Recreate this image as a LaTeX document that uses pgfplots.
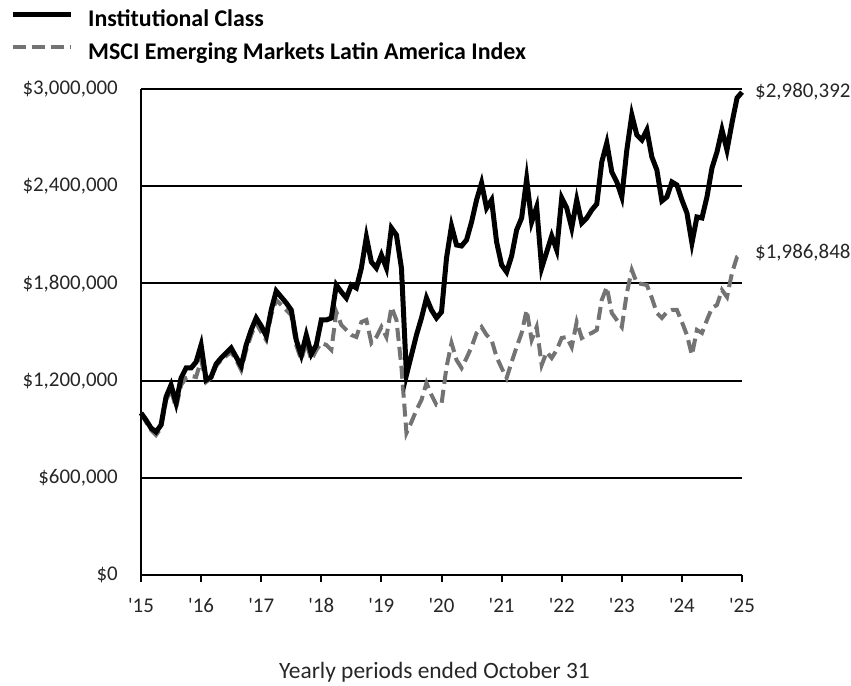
\documentclass[border=0pt]{standalone}
\usepackage{fontspec}
\setmainfont{Carlito}[Ligatures=TeXOff]
\usepackage{pgfplots}
\pgfplotsset{compat=1.18}
\definecolor{idxgray}{RGB}{115,115,115}
\pgfplotstableread{
m v
0 1000000
1 956800
2 907400
3 882700
4 926000
5 1098800
6 1172900
7 1061800
8 1216100
9 1277800
10 1277800
11 1314800
12 1419800
13 1203700
14 1222300
15 1302500
16 1339500
17 1370400
18 1401300
19 1345700
20 1290200
21 1419800
22 1512400
23 1586500
24 1537100
25 1475300
26 1635800
27 1753100
28 1716100
29 1679100
30 1635800
31 1450700
32 1358100
33 1481500
34 1364200
35 1419800
36 1574100
37 1574100
38 1586500
39 1790200
40 1747000
41 1709900
42 1790200
43 1771700
44 1895100
45 2086500
46 1932100
47 1895100
48 1975400
49 1895100
50 2142000
51 2098800
52 1895100
53 1234600
54 1358100
55 1481500
56 1586500
57 1709900
58 1635800
59 1586500
60 1623500
61 1956800
62 2154400
63 2037100
64 2030900
65 2068000
66 2179100
67 2314900
68 2419800
69 2265500
70 2314900
71 2055600
72 1913600
73 1870400
74 1969200
75 2129700
76 2203800
77 2444500
78 2179100
79 2271700
80 1895100
81 1993900
82 2092600
83 2006200
84 2327200
85 2265500
86 2142000
87 2314900
88 2172900
89 2203800
90 2253100
91 2290200
92 2549400
93 2666700
94 2487700
95 2426000
96 2333400
97 2623500
98 2839600
99 2716100
100 2685300
101 2747000
102 2580300
103 2500100
104 2308700
105 2333400
106 2426000
107 2407500
108 2314900
109 2234600
110 2049400
111 2209900
112 2203800
113 2333400
114 2512400
115 2611200
116 2747000
117 2623500
118 2790200
119 2944500
120 2980392
}\fund
\pgfplotstableread{
m v
0 1000000
1 944500
2 895100
3 864200
4 907400
5 1080300
6 1142000
7 1030900
8 1172900
9 1216100
10 1228400
11 1222300
12 1327200
13 1191400
14 1216100
15 1290200
16 1327200
17 1351900
18 1376600
19 1327200
20 1265500
21 1388900
22 1481500
23 1555600
24 1500000
25 1450700
26 1605000
27 1697600
28 1666700
29 1635800
30 1605000
31 1419800
32 1327200
33 1438300
34 1327200
35 1388900
36 1432100
37 1419800
38 1388900
39 1623500
40 1543300
41 1512400
42 1481500
43 1469200
44 1561800
45 1574100
46 1432100
47 1469200
48 1530900
49 1469200
50 1654400
51 1574100
52 1284000
53 876600
54 944500
55 1018500
56 1080300
57 1185200
58 1111100
59 1049400
60 1055600
61 1284000
62 1432100
63 1327200
64 1277800
65 1339500
66 1407400
67 1493900
68 1530900
69 1481500
70 1450700
71 1345700
72 1277800
73 1216100
74 1314800
75 1407400
76 1493900
77 1635800
78 1450700
79 1530900
80 1296300
81 1376600
82 1339500
83 1388900
84 1463000
85 1469200
86 1407400
87 1561800
88 1463000
89 1481500
90 1493900
91 1512400
92 1697600
93 1777800
94 1617300
95 1574100
96 1530900
97 1740800
98 1882800
99 1802500
100 1796300
101 1790200
102 1709900
103 1617300
104 1586500
105 1623500
106 1635800
107 1635800
108 1561800
109 1481500
110 1358100
111 1512400
112 1493900
113 1574100
114 1648200
115 1666700
116 1759300
117 1716100
118 1864200
119 1963000
120 1986848
}\idx
\begin{document}
\begin{tikzpicture}[x=1bp,y=1bp]
\useasboundingbox (0,0) rectangle (851,686);
\begin{axis}[
  at={(141bp,111bp)}, anchor=south west,
  scale only axis, width=601bp, height=486bp,
  xmin=0, xmax=120, ymin=0, ymax=3000000,
  scaled y ticks=false,
  clip=false,
  axis x line*=bottom, axis y line*=left,
  axis line style={line width=2bp, black},
  ymajorgrids, grid style={line width=2bp, black},
  xtick={0,12,...,120},
  xticklabels={'15,'16,'17,'18,'19,'20,'21,'22,'23,'24,'25},
  ytick={0,600000,1200000,1800000,2400000,3000000},
  yticklabels={\$0,{\$600,000},{\$1,200,000},{\$1,800,000},{\$2,400,000},{\$3,000,000}},
  tick label style={font=\fontsize{21}{24}\selectfont, text=black!85},
  tick align=outside,
  major tick length=7bp,
  xtick style={line width=2bp, black},
  ytick style={draw=none},
  xticklabel style={yshift=-13bp},
  yticklabel style={inner sep=0pt, xshift=-16bp},
  xlabel={Yearly periods ended October 31},
  xlabel style={at={(axis description cs:0.5,-0.1996)}, anchor=center, xshift=-7bp, font=\fontsize{23.5}{26}\selectfont, text=black!85},
  reverse legend,
  legend cell align=left,
  legend style={at={(axis description cs:-0.218,1.1646)}, anchor=north west, draw=none, fill=none,
    font=\fontsize{24}{28}\selectfont\bfseries, inner sep=0pt,
    nodes={inner sep=0pt, text height=17bp, text depth=5bp},
    row sep=11bp,
    /tikz/every odd column/.append style={column sep=15bp}},
  legend image code/.code={\draw[#1] (0bp,6bp) -- (58bp,6bp);},
]
\addplot[idxgray, line width=4bp, dash pattern=on 13bp off 6bp] table[x=m,y=v]{\idx};
\addlegendentry{MSCI Emerging Markets Latin America Index}
\addplot[black, line width=5bp] table[x=m,y=v]{\fund};
\addlegendentry{Institutional Class}
\node[anchor=west, font=\fontsize{21}{24}\selectfont, text=black!85, inner sep=0pt] at (axis cs:120,2980392) [xshift=13bp] {\$2,980,392};
\node[anchor=west, font=\fontsize{21}{24}\selectfont, text=black!85, inner sep=0pt] at (axis cs:120,1986848) [xshift=13bp] {\$1,986,848};
\end{axis}
\end{tikzpicture}
\end{document}
